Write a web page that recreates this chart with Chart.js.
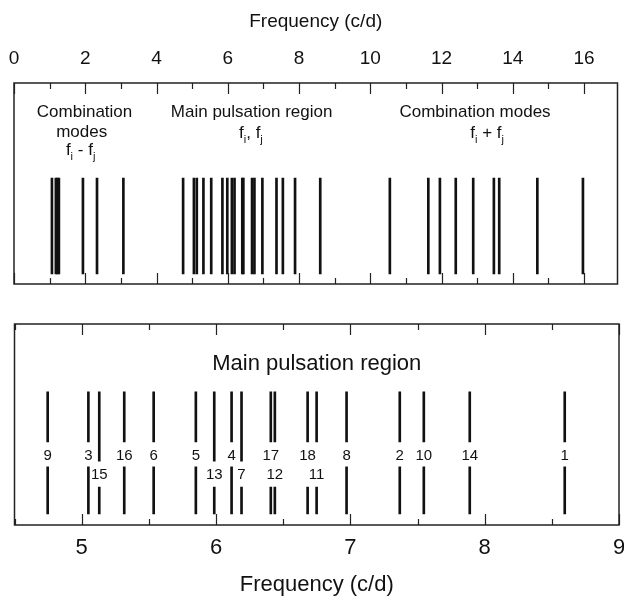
<!DOCTYPE html>
<html>
<head>
<meta charset="utf-8">
<script src="https://cdn.jsdelivr.net/npm/chart.js@4/dist/chart.umd.min.js"></script>
<style>
  html, body { margin: 0; padding: 0; background: #fff; }
  #wrap { position: relative; width: 624px; height: 601px; }
  canvas { position: absolute; left: 0; }
  #topChart { top: 0; }
  #bottomChart { top: 300px; }
</style>
</head>
<body>
<div id="wrap">
  <canvas id="topChart" width="624" height="300"></canvas>
  <canvas id="bottomChart" width="624" height="301"></canvas>
</div>
<script>
// Main pulsation modes: number and frequency (c/d)
const modeIds = [9, 3, 15, 16, 6, 5, 13, 4, 7, 17, 12, 18, 11, 8, 2, 10, 14, 1];
const modeFreqs = [4.747, 5.05, 5.131, 5.317, 5.536, 5.85, 5.987, 6.116, 6.19, 6.408, 6.438, 6.682, 6.749, 6.972, 7.368, 7.547, 7.889, 8.596];
// modes whose number sits in the second row, and close pairs sharing one gap
const secondRowIds = [15, 13, 7, 12, 11];
const pairedIds = [17, 12, 18, 11];

// Combination frequencies
const diffFreqs = [1.065, 1.175, 1.215, 1.26, 1.935, 2.33, 3.07];
const sumFreqs = [10.55, 11.63, 11.955, 12.40, 12.89, 13.47, 13.62, 14.69, 15.97];

// Tick labels
const topTickLabels = ['0', '2', '4', '6', '8', '10', '12', '14', '16'];
const bottomTickLabels = ['5', '6', '7', '8', '9'];
const axisTitle = 'Frequency (c/d)';

const FONT = '"Liberation Sans", Arial, Helvetica, sans-serif';
const INK = '#111';

// box + inward tick marks on both edges
const frameTicks = {
    id: 'frameTicks',
    afterDraw(chart) {
        const { ctx, chartArea: a } = chart;
        const x = chart.scales.x;
        ctx.save();
        ctx.strokeStyle = '#222';
        ctx.lineWidth = 1.2;
        x.ticks.forEach(t => {
            const px = Math.round(x.getPixelForValue(t.value)) + 0.5;
            const len = t.label ? 11 : 6;
            ctx.beginPath();
            ctx.moveTo(px, a.top);
            ctx.lineTo(px, a.top + len);
            ctx.moveTo(px, a.bottom);
            ctx.lineTo(px, a.bottom - len);
            ctx.stroke();
        });
        ctx.lineWidth = 1.5;
        ctx.strokeRect(a.left, a.top, a.right - a.left, a.bottom - a.top);
        ctx.restore();
    }
};

// text with subscripts: parts = [[text, isSub], ...]
function drawParts(ctx, parts, cx, base, size) {
    const sub = Math.round(size * 0.65);
    const fonts = parts.map(p => (p[1] ? sub : size) + 'px ' + FONT);
    let w = 0;
    parts.forEach((p, i) => { ctx.font = fonts[i]; w += ctx.measureText(p[0]).width; });
    let xx = cx - w / 2;
    parts.forEach((p, i) => {
        ctx.font = fonts[i];
        ctx.fillText(p[0], xx, p[1] ? base + size * 0.3 : base);
        xx += ctx.measureText(p[0]).width;
    });
}

const topNotes = {
    id: 'topNotes',
    afterDraw(chart) {
        const { ctx, chartArea: a } = chart;
        const x = chart.scales.x;
        ctx.save();
        ctx.fillStyle = INK;
        ctx.textAlign = 'left';
        ctx.textBaseline = 'alphabetic';
        const s = 17;
        drawParts(ctx, [['Combination', false]], x.getPixelForValue(1.98), a.top + 34, s);
        drawParts(ctx, [['modes', false]], x.getPixelForValue(1.9), a.top + 54, s);
        drawParts(ctx, [['f', false], ['i', true], [' - f', false], ['j', true]], x.getPixelForValue(1.87), a.top + 72, s);
        drawParts(ctx, [['Main pulsation region', false]], x.getPixelForValue(6.67), a.top + 34, s);
        drawParts(ctx, [['f', false], ['i', true], [', f', false], ['j', true]], x.getPixelForValue(6.65), a.top + 55, s);
        drawParts(ctx, [['Combination modes', false]], x.getPixelForValue(12.94), a.top + 34, s);
        drawParts(ctx, [['f', false], ['i', true], [' + f', false], ['j', true]], x.getPixelForValue(13.28), a.top + 55, s);
        ctx.restore();
    }
};

const bottomNotes = {
    id: 'bottomNotes',
    afterDraw(chart) {
        const { ctx, chartArea: a } = chart;
        const x = chart.scales.x, y = chart.scales.y;
        ctx.save();
        ctx.fillStyle = INK;
        ctx.textAlign = 'center';
        ctx.textBaseline = 'alphabetic';
        ctx.font = '22px ' + FONT;
        ctx.fillText('Main pulsation region', (a.left + a.right) / 2, a.top + 46);
        ctx.font = '15px ' + FONT;
        ctx.textBaseline = 'middle';
        modeIds.forEach((id, i) => {
            const row2 = secondRowIds.includes(id);
            const py = y.getPixelForValue(row2 ? 0.249 : 0.343);
            ctx.fillText(String(id), x.getPixelForValue(modeFreqs[i]), py);
        });
        ctx.restore();
    }
};

function xAxis(opts) {
    return {
        type: 'linear',
        position: opts.position,
        min: opts.min,
        max: opts.max,
        offset: false,
        grid: { display: false, drawTicks: false },
        border: { display: false },
        ticks: {
            stepSize: opts.step,
            includeBounds: false,
            autoSkip: false,
            maxRotation: 0,
            padding: opts.pad,
            color: INK,
            font: { family: FONT, size: opts.tickSize },
            callback: v => opts.labels.includes(String(v)) ? String(v) : ''
        },
        title: {
            display: true,
            text: axisTitle,
            color: INK,
            font: { family: FONT, size: opts.titleSize },
            padding: opts.titlePad
        },
        afterFit(scale) {
            scale.height = opts.height;
            scale.paddingLeft = 0;
            scale.paddingRight = 0;
        }
    };
}

const hiddenY = { type: 'linear', min: 0, max: 1, display: false };

const baseOptions = {
    responsive: false,
    animation: false,
    devicePixelRatio: 1,
    plugins: { legend: { display: false }, tooltip: { enabled: false } }
};

// Top panel: all frequencies 0-17 c/d
const topLines = diffFreqs.concat(modeFreqs, sumFreqs).map(f => ({ x: f, y: [0.05, 0.527] }));

new Chart(document.getElementById('topChart'), {
    type: 'bar',
    data: {
        datasets: [{
            data: topLines,
            backgroundColor: INK,
            borderWidth: 0,
            barThickness: 2,
            grouped: false
        }]
    },
    options: Object.assign({}, baseOptions, {
        layout: { padding: { left: 14, right: 6.5, top: 0, bottom: 16 } },
        scales: {
            x: xAxis({ position: 'top', min: 0, max: 16.94, step: 1, labels: topTickLabels,
                tickSize: 19, titleSize: 19, pad: 13, titlePad: { top: 10, bottom: 0 }, height: 83 }),
            y: hiddenY
        }
    }),
    plugins: [frameTicks, topNotes]
});

// Bottom panel: main pulsation region, lines broken around the mode numbers
const upperSegs = modeFreqs.map((f, i) => {
    const id = modeIds[i];
    const low = (secondRowIds.includes(id) && !pairedIds.includes(id)) ? 0.318 : 0.413;
    return { x: f, y: [low, 0.662] };
});
const lowerSegs = modeFreqs.map((f, i) => {
    const id = modeIds[i];
    const high = (secondRowIds.includes(id) || pairedIds.includes(id)) ? 0.189 : 0.289;
    return { x: f, y: [0.055, high] };
});

new Chart(document.getElementById('bottomChart'), {
    type: 'bar',
    data: {
        datasets: [
            { data: upperSegs, backgroundColor: INK, borderWidth: 0, barThickness: 2, grouped: false },
            { data: lowerSegs, backgroundColor: INK, borderWidth: 0, barThickness: 2, grouped: false }
        ]
    },
    options: Object.assign({}, baseOptions, {
        layout: { padding: { left: 14.5, right: 5, top: 24, bottom: 0 } },
        scales: {
            x: xAxis({ position: 'bottom', min: 4.5, max: 9, step: 0.5, labels: bottomTickLabels,
                tickSize: 22, titleSize: 22, pad: 10, titlePad: { top: 0, bottom: 3 }, height: 76 }),
            y: hiddenY
        }
    }),
    plugins: [frameTicks, bottomNotes]
});
</script>
</body>
</html>
